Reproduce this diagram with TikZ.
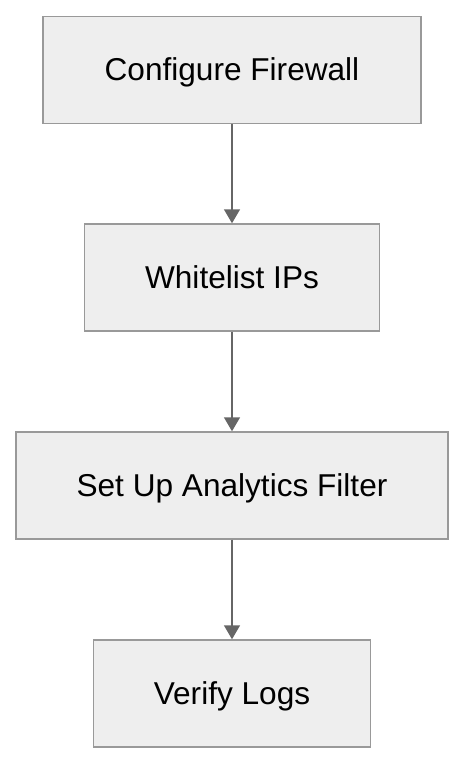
\documentclass[tikz,border=0pt]{standalone}
\usepackage{fontspec}
\setmainfont{Liberation Sans}
\usepackage{xcolor}
\usepackage{tikz}
\usetikzlibrary{arrows.meta,positioning}
\definecolor{stepfill}{RGB}{238,238,238}
\definecolor{stepline}{RGB}{153,153,153}
\definecolor{flowgray}{RGB}{102,102,102}

\begin{document}
\begin{tikzpicture}[x=0.75pt,y=-0.75pt,
  stepbox/.style={draw=stepline,fill=stepfill,line width=1.1pt,inner sep=0pt,
    minimum height=80.25pt,text depth=1pt,font=\fontsize{23.7}{28}\selectfont},
  flowarrow/.style={-{Triangle[length=10.5pt,width=12pt]},flowgray,line width=1.1pt}]
\useasboundingbox (0,0) rectangle (466,764);
\node[stepbox,minimum width=283.5pt] (firewall) at (232,70) {Configure Firewall};
\node[stepbox,minimum width=221.25pt] (whitelist) at (232,277.5) {Whitelist IPs};
\node[stepbox,minimum width=324pt] (filter) at (232,485.5) {Set Up Analytics Filter};
\node[stepbox,minimum width=207.75pt] (verify) at (232,693.5) {Verify Logs};
\draw[flowarrow] (firewall) -- (whitelist);
\draw[flowarrow] (whitelist) -- (filter);
\draw[flowarrow] (filter) -- (verify);
\end{tikzpicture}
\end{document}
